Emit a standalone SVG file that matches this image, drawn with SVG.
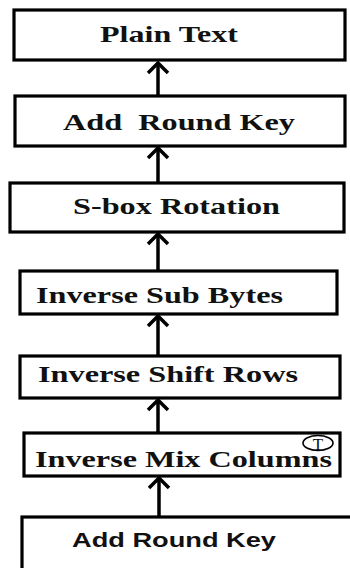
<svg xmlns="http://www.w3.org/2000/svg" width="350" height="568" viewBox="0 0 350 568">
  <style>
    .box { fill: #ffffff; stroke: #000000; stroke-width: 3.2; }
    .lbl { font-family: "Liberation Serif", "Times New Roman", serif; font-weight: bold; font-size: 23px; fill: #111111; white-space: pre; }
    .lbl-sans { font-family: "Liberation Sans", Arial, sans-serif; font-weight: bold; font-size: 21px; fill: #111111; }
    .shaft { stroke: #000000; stroke-width: 3.5; fill: none; }
    .head { stroke: #000000; stroke-width: 3.5; fill: none; stroke-linejoin: miter; }
    .tag { font-family: "Liberation Serif", "Times New Roman", serif; font-size: 17px; fill: #111111; }
  </style>
  <rect width="350" height="568" fill="#ffffff"/>

  <g id="connectors">
    <path class="shaft" d="M158,95 V63"/>
    <path class="head" d="M148,73 L158,63 L168,73"/>
    <path class="shaft" d="M158,182 V148"/>
    <path class="head" d="M148,158 L158,148 L168,158"/>
    <path class="shaft" d="M158,270 V234"/>
    <path class="head" d="M148,244 L158,234 L168,244"/>
    <path class="shaft" d="M158,355 V316"/>
    <path class="head" d="M148,326 L158,316 L168,326"/>
    <path class="shaft" d="M158,432 V400"/>
    <path class="head" d="M148,410 L158,400 L168,410"/>
    <path class="shaft" d="M159,516 V478"/>
    <path class="head" d="M149,488 L159,478 L169,488"/>
  </g>

  <g id="plain-text">
    <rect class="box" x="14" y="10" width="331" height="50"/>
    <text class="lbl" x="100" y="42" textLength="138" lengthAdjust="spacingAndGlyphs">Plain Text</text>
  </g>

  <g id="add-round-key-final">
    <rect class="box" x="15" y="96" width="330" height="50"/>
    <text class="lbl" x="63" y="130" textLength="232" lengthAdjust="spacingAndGlyphs">Add  Round Key</text>
  </g>

  <g id="sbox-rotation">
    <rect class="box" x="10" y="183" width="334" height="49"/>
    <text class="lbl" x="73" y="214" textLength="207" lengthAdjust="spacingAndGlyphs">S-box Rotation</text>
  </g>

  <g id="inverse-sub-bytes">
    <rect class="box" x="20" y="271" width="317" height="43"/>
    <text class="lbl" x="36" y="303" textLength="247" lengthAdjust="spacingAndGlyphs">Inverse Sub Bytes</text>
  </g>

  <g id="inverse-shift-rows">
    <rect class="box" x="20" y="356" width="320" height="42"/>
    <text class="lbl" x="38" y="382" textLength="260" lengthAdjust="spacingAndGlyphs">Inverse Shift Rows</text>
  </g>

  <g id="inverse-mix-columns">
    <rect class="box" x="24" y="433" width="316" height="43"/>
    <text class="lbl" x="35" y="467" textLength="297" lengthAdjust="spacingAndGlyphs">Inverse Mix Columns</text>
    <ellipse cx="318" cy="443" rx="15" ry="7.5" fill="none" stroke="#000000" stroke-width="1.6"/>
    <text class="tag" x="318" y="450" text-anchor="middle">T</text>
  </g>

  <g id="add-round-key-initial">
    <rect class="box" x="22" y="517" width="340" height="70"/>
    <text class="lbl-sans" x="72" y="547" textLength="204" lengthAdjust="spacingAndGlyphs">Add Round Key</text>
  </g>
</svg>
